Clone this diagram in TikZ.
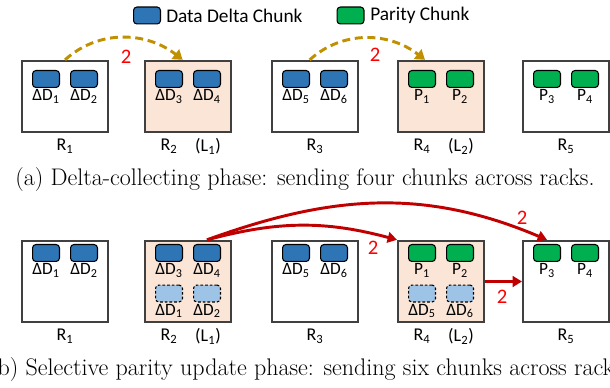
\documentclass[tikz,border=0pt]{standalone}
\usepackage{fontspec}
\usepackage{tikz}
\usetikzlibrary{
    arrows.meta,
    positioning
}
\newfontfamily\calibri{Carlito}
\definecolor{rackgray}{HTML}{404040}
\definecolor{leaderfill}{HTML}{FBE5D6}
\definecolor{deltablue}{HTML}{2E75B6}
\definecolor{paritygreen}{HTML}{00B050}
\definecolor{tempblue}{HTML}{9DC3E6}
\definecolor{gold}{HTML}{BF9000}
\definecolor{darkred}{HTML}{C00000}
\tikzset{
    rack/.style={draw=rackgray, line width=1.5pt, minimum width=64.5pt, inner sep=0pt},
    toprack/.style={rack, minimum height=53.5pt},
    botrack/.style={rack, minimum height=61pt},
    leader/.style={fill=leaderfill},
    chunk/.style={draw=black, line width=0.8pt, rounded corners=2.5pt, minimum width=20.2pt, minimum height=12.7pt, inner sep=0pt},
    dchunk/.style={chunk, fill=deltablue},
    pchunk/.style={chunk, fill=paritygreen},
    tchunk/.style={chunk, fill=tempblue, dashed, dash pattern=on 2pt off 1.5pt},
    lbl/.style={font=\calibri\fontsize{13}{14}\selectfont, inner sep=0.5pt},
    rlbl/.style={font=\calibri\fontsize{13.5}{14}\selectfont, inner sep=0pt},
    legtxt/.style={anchor=west, font=\calibri\fontsize{14.5}{15}\selectfont, inner sep=0pt},
    num/.style={font=\calibri\fontsize{15.5}{16}\selectfont, text=red, inner sep=0pt},
    caption/.style={font=\fontsize{18}{20}\selectfont, inner sep=0pt, anchor=base},
    goldarrow/.style={gold, line width=2.2pt, dash pattern=on 6pt off 3.5pt, -{Triangle[width=9pt, length=7pt]}},
    redarrow/.style={darkred, line width=2.2pt, -{Triangle[width=8pt, length=7pt]}}
}
\begin{document}
\begin{tikzpicture}[x=0.75pt, y=-0.75pt]
    \useasboundingbox (0, 0) rectangle (610, 388);

    % legend
    \node[dchunk] (legd) at (147, 15.5) {};
    \node[legtxt] (legdt) at (166, 15.5) {Data Delta Chunk};
    \node[pchunk] (legp) at (350.5, 15.5) {};
    \node[legtxt] (legpt) at (370, 15.5) {Parity Chunk};

    % (a) delta-collecting phase
    \node[toprack] (ra1) at (65, 96.5) {};
    \node[toprack, leader] (ra2) at (188, 96.5) {};
    \node[toprack] (ra3) at (315, 96.5) {};
    \node[toprack, leader] (ra4) at (441, 96.5) {};
    \node[toprack] (ra5) at (566, 96.5) {};

    \node[dchunk] (ca11) at (46, 79) {};
    \node[dchunk] (ca12) at (84, 79) {};
    \node[dchunk] (ca21) at (169, 79) {};
    \node[dchunk] (ca22) at (207, 79) {};
    \node[dchunk] (ca31) at (296, 79) {};
    \node[dchunk] (ca32) at (334, 79) {};
    \node[pchunk] (ca41) at (422, 79) {};
    \node[pchunk] (ca42) at (460, 79) {};
    \node[pchunk] (ca51) at (547, 79) {};
    \node[pchunk] (ca52) at (585, 79) {};

    \node[lbl, below=0.5pt of ca11] {ΔD\textsubscript{1}};
    \node[lbl, below=0.5pt of ca12] {ΔD\textsubscript{2}};
    \node[lbl, below=0.5pt of ca21] {ΔD\textsubscript{3}};
    \node[lbl, below=0.5pt of ca22] {ΔD\textsubscript{4}};
    \node[lbl, below=0.5pt of ca31] {ΔD\textsubscript{5}};
    \node[lbl, below=0.5pt of ca32] {ΔD\textsubscript{6}};
    \node[lbl, below=0.5pt of ca41] {P\textsubscript{1}};
    \node[lbl, below=0.5pt of ca42] {P\textsubscript{2}};
    \node[lbl, below=0.5pt of ca51] {P\textsubscript{3}};
    \node[lbl, below=0.5pt of ca52] {P\textsubscript{4}};

    \node[rlbl] at (65, 146) {R\textsubscript{1}};
    \node[rlbl] at (169, 146) {R\textsubscript{2}};
    \node[rlbl] at (208, 146) {(L\textsubscript{1})};
    \node[rlbl] at (315, 146) {R\textsubscript{3}};
    \node[rlbl] at (422, 146) {R\textsubscript{4}};
    \node[rlbl] at (461, 146) {(L\textsubscript{2})};
    \node[rlbl] at (566, 146) {R\textsubscript{5}};

    \coordinate (sa1) at (ra1.north);
    \coordinate (ea1) at ([xshift=-4pt]ra2.north);
    \coordinate (sa3) at ([xshift=-4pt]ra3.north);
    \coordinate (ea3) at ([xshift=-12pt]ra4.north);
    \draw[goldarrow] (sa1) to[out=42, in=142] (ea1);
    \draw[goldarrow] (sa3) to[out=42, in=142] (ea3);
    \node[num] (na1) at (126, 57) {2};
    \node[num] (na3) at (375, 55) {2};

    \node[caption] (capa) at (305, 186) {(a) Delta-collecting phase: sending four chunks across racks.};

    % (b) selective parity update phase
    \node[botrack] (rb1) at (65, 281.5) {};
    \node[botrack, leader] (rb2) at (188, 281.5) {};
    \node[botrack] (rb3) at (315, 281.5) {};
    \node[botrack, leader] (rb4) at (441, 281.5) {};
    \node[botrack] (rb5) at (566, 281.5) {};

    \node[dchunk] (cb11) at (46, 253) {};
    \node[dchunk] (cb12) at (84, 253) {};
    \node[dchunk] (cb21) at (169, 253) {};
    \node[dchunk] (cb22) at (207, 253) {};
    \node[dchunk] (cb31) at (296, 253) {};
    \node[dchunk] (cb32) at (334, 253) {};
    \node[pchunk] (cb41) at (422, 253) {};
    \node[pchunk] (cb42) at (460, 253) {};
    \node[pchunk] (cb51) at (547, 253) {};
    \node[pchunk] (cb52) at (585, 253) {};
    \node[tchunk] (tb21) at (169, 293.5) {};
    \node[tchunk] (tb22) at (207, 293.5) {};
    \node[tchunk] (tb41) at (422, 293.5) {};
    \node[tchunk] (tb42) at (460, 293.5) {};

    \node[lbl, below=0.5pt of cb11] {ΔD\textsubscript{1}};
    \node[lbl, below=0.5pt of cb12] {ΔD\textsubscript{2}};
    \node[lbl, below=0.5pt of cb21] {ΔD\textsubscript{3}};
    \node[lbl, below=0.5pt of cb22] {ΔD\textsubscript{4}};
    \node[lbl, below=0.5pt of cb31] {ΔD\textsubscript{5}};
    \node[lbl, below=0.5pt of cb32] {ΔD\textsubscript{6}};
    \node[lbl, below=0.5pt of cb41] {P\textsubscript{1}};
    \node[lbl, below=0.5pt of cb42] {P\textsubscript{2}};
    \node[lbl, below=0.5pt of cb51] {P\textsubscript{3}};
    \node[lbl, below=0.5pt of cb52] {P\textsubscript{4}};
    \node[lbl, below=0.5pt of tb21] {ΔD\textsubscript{1}};
    \node[lbl, below=0.5pt of tb22] {ΔD\textsubscript{2}};
    \node[lbl, below=0.5pt of tb41] {ΔD\textsubscript{5}};
    \node[lbl, below=0.5pt of tb42] {ΔD\textsubscript{6}};

    \node[rlbl] at (65, 336) {R\textsubscript{1}};
    \node[rlbl] at (169, 336) {R\textsubscript{2}};
    \node[rlbl] at (208, 336) {(L\textsubscript{1})};
    \node[rlbl] at (315, 336) {R\textsubscript{3}};
    \node[rlbl] at (422, 336) {R\textsubscript{4}};
    \node[rlbl] at (461, 336) {(L\textsubscript{2})};
    \node[rlbl] at (566, 336) {R\textsubscript{5}};

    \coordinate (sb2) at (cb22.north |- rb2.north);
    \coordinate (eb4) at (rb4.north west);
    \coordinate (eb5) at (cb51.north |- rb5.north);
    \draw[redarrow] (sb2) to[out=15, in=165] (eb4);
    \draw[redarrow] (sb2) to[out=20, in=157] (eb5);
    \draw[redarrow] (rb4.east) -- (rb5.west);
    \node[num] (nb4) at (373, 248) {2};
    \node[num] (nb5) at (522, 218) {2};
    \node[num] (nb45) at (502, 297) {2};

    \node[caption] (capb) at (309, 375) {(b) Selective parity update phase: sending six chunks across racks.};
\end{tikzpicture}
\end{document}
